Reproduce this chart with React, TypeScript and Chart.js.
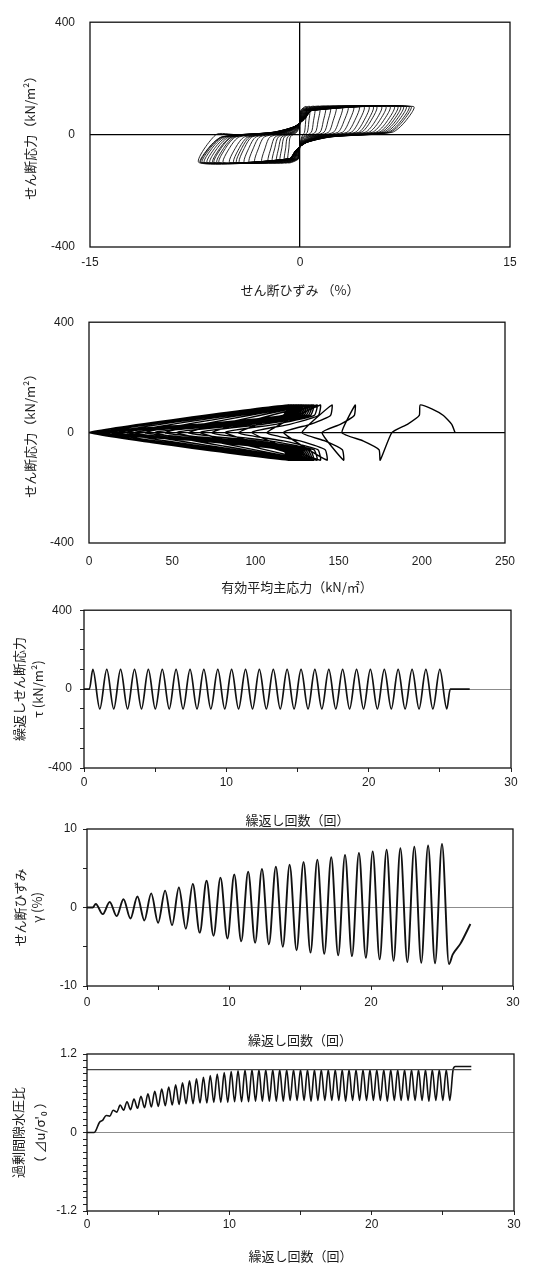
import React, { useEffect, useRef } from 'react';
import { Chart, registerables } from 'chart.js';

Chart.register(...registerables);

const PAGE_W = 542;
const FONT_NUM = '"Liberation Sans", Arial, sans-serif';
const FONT_JP = '"Noto Sans CJK JP", "Noto Sans", sans-serif';
const TEXT_COLOR = '#1c1c1c';

// ====================== DATA ======================
// times (cycles) of the cyclic shear stress peaks (+) and troughs (−), alternating
const tipTimes = [
  0.62, 1.11, 1.60, 2.09, 2.57, 3.06, 3.55, 4.04, 4.52, 5.01,
  5.50, 5.99, 6.47, 6.96, 7.45, 7.94, 8.42, 8.91, 9.40, 9.89,
  10.37, 10.86, 11.35, 11.84, 12.32, 12.81, 13.30, 13.79, 14.27, 14.76,
  15.25, 15.74, 16.22, 16.71, 17.20, 17.69, 18.17, 18.66, 19.15, 19.64,
  20.12, 20.61, 21.10, 21.59, 22.07, 22.56, 23.05, 23.54, 24.02, 24.51,
  25.00, 25.49,
];
// times of the stress zero-crossings following each tip
const crossTimes = [
  0.86, 1.35, 1.84, 2.33, 2.81, 3.30, 3.79, 4.28, 4.76, 5.25,
  5.74, 6.23, 6.71, 7.20, 7.69, 8.18, 8.66, 9.15, 9.64, 10.13,
  10.61, 11.10, 11.59, 12.08, 12.56, 13.05, 13.54, 14.03, 14.51, 15.00,
  15.49, 15.98, 16.46, 16.95, 17.44, 17.93, 18.41, 18.90, 19.39, 19.88,
  20.36, 20.85, 21.34, 21.83, 22.31, 22.80, 23.29, 23.78, 24.26, 24.75,
  25.24, 25.73,
];
const stressAmplitude = 100; // kN/m2
const stressLeadTimes = [0, 0.38];
const stressTailTimes = [25.73, 27.1];

// shear strain (%) at each stress peak / trough
const strainPeaks = [
  0.45, 0.7, 1.05, 1.4, 1.8, 2.15, 2.55, 3.0, 3.4, 3.8,
  4.2, 4.55, 4.9, 5.2, 5.45, 5.8, 6.1, 6.4, 6.7, 6.95,
  7.15, 7.35, 7.55, 7.75, 7.9, 8.1,
];
const strainTroughs = [
  -0.85, -1.1, -1.4, -1.65, -1.95, -2.25, -2.7, -3.2, -3.6, -3.95,
  -4.3, -4.5, -4.7, -5.0, -5.45, -5.75, -5.9, -6.1, -6.2, -6.4,
  -6.6, -6.8, -6.95, -7.05, -7.1, -7.2,
];
const strainLeadTimes = [0, 0.4];
const strainTailTimes = [25.75, 26.3, 27.0];
const strainTailValues = [-6.0, -4.6, -2.1];

// excess pore water pressure ratio at stress tips (local minima) and zero-crossings (local maxima)
const ruAtTips = [
  0.03, 0.19, 0.25, 0.31, 0.34, 0.35, 0.37, 0.38, 0.39, 0.40,
  0.41, 0.42, 0.43, 0.44, 0.44, 0.45, 0.45, 0.46, 0.46, 0.46,
  0.47, 0.47, 0.47, 0.48, 0.48, 0.48, 0.48, 0.48, 0.49, 0.49,
  0.49, 0.48, 0.49, 0.49, 0.49, 0.49, 0.48, 0.49, 0.49, 0.49,
  0.49, 0.49, 0.48, 0.49, 0.49, 0.49, 0.49, 0.49, 0.48, 0.49,
  0.49, 0.49,
];
const ruAtCrossings = [
  0.15, 0.26, 0.34, 0.42, 0.47, 0.51, 0.555, 0.59, 0.63, 0.665,
  0.695, 0.73, 0.76, 0.79, 0.82, 0.845, 0.87, 0.895, 0.915, 0.93,
  0.945, 0.955, 0.96, 0.96, 0.96, 0.96, 0.96, 0.96, 0.96, 0.96,
  0.96, 0.96, 0.96, 0.96, 0.96, 0.96, 0.96, 0.96, 0.96, 0.96,
  0.96, 0.96, 0.96, 0.96, 0.96, 0.96, 0.96, 0.96, 0.96, 0.96,
  0.96, 0.97,
];
const ruLeadTimes = [0, 0.5];
const ruTailTimes = [25.88, 27.0];
const ruTailValues = [1.01, 1.01];
const ruReferenceLevel = 0.96;
const ruReferenceSpan = [0, 27];

// effective stress path: mean effective stress p' (kN/m2)
const pathStartP = [220, 218, 213, 206];
const pathStartTau = [0, 30, 62, 86];
const pathTipP = [
  199, 175, 160, 153, 146, 143, 139, 139, 137, 137,
  135, 135, 134, 134, 133, 133, 132, 132, 131, 131,
  130, 130, 129, 129, 128, 128, 127, 127, 126, 126,
  125, 125, 124, 125, 124, 124, 123, 124, 123, 123,
  122, 123, 122, 122, 121, 122, 121, 121, 120, 121,
  120, 120,
];
const pathCrossP = [
  182, 152, 140, 128, 117, 107, 98, 90, 82, 74,
  67, 60, 53, 46, 40, 34, 28, 23, 18, 14,
  10, 7, 4, 2, 1, 0, 0, 0, 0, 0,
  0, 0, 0, 0, 0, 0, 0, 0, 0, 0,
  0, 0, 0, 0, 0, 0, 0, 0, 0, 0,
  0, 0,
];
const pathUnloadTau = [62, 30];
const pathUnloadFrac = [0.97, 0.55];

// shape of one branch of the stress-strain loop (from one tip to the next)
const loopBranchStress = [45, 8, -8, -28, -55, -86];
const loopWeightFrom = [0.96, 0.9, 0.28, 0.06, 0, 0];
const loopWeightTo = [0.04, 0.1, 0, 0, 0.04, 0.11];

// ====================== SERIES ======================
type P = { x: number; y: number };
const tipSign = (i: number) => (i % 2 === 0 ? 1 : -1);
const strainTips = tipTimes.map((_, i) => (i % 2 === 0 ? strainPeaks[i >> 1] : strainTroughs[i >> 1]));

const stressSeries: P[] = [
  ...stressLeadTimes.map((t) => ({ x: t, y: 0 })),
  ...tipTimes.map((t, i) => ({ x: t, y: tipSign(i) * stressAmplitude })),
  ...stressTailTimes.map((t) => ({ x: t, y: 0 })),
];

const strainSeries: P[] = [
  ...strainLeadTimes.map((t) => ({ x: t, y: 0 })),
  ...tipTimes.map((t, i) => ({ x: t, y: strainTips[i] })),
  ...strainTailTimes.map((t, i) => ({ x: t, y: strainTailValues[i] })),
];

const ruSeries: P[] = [
  ...ruLeadTimes.map((t) => ({ x: t, y: 0 })),
  ...tipTimes.flatMap((t, i) => [
    { x: t, y: ruAtTips[i] },
    { x: crossTimes[i], y: ruAtCrossings[i] },
  ]),
  ...ruTailTimes.map((t, i) => ({ x: t, y: ruTailValues[i] })),
];
const ruRefSeries: P[] = ruReferenceSpan.map((t) => ({ x: t, y: ruReferenceLevel }));

const pathSeries: P[] = pathStartP.map((p, i) => ({ x: p, y: pathStartTau[i] }));
tipTimes.forEach((_, i) => {
  const s = tipSign(i);
  const tip = pathTipP[i];
  const cross = pathCrossP[i];
  pathSeries.push({ x: tip, y: s * stressAmplitude });
  pathUnloadTau.forEach((tau, j) => {
    pathSeries.push({ x: cross + pathUnloadFrac[j] * (tip - cross), y: s * tau });
  });
  pathSeries.push({ x: cross, y: 0 });
});

const loopSeries: P[] = [{ x: 0, y: 0 }];
let prevStrain = 0;
strainTips.forEach((b, i) => {
  const s = tipSign(i);
  loopBranchStress.forEach((st, j) => {
    const y = -s * st;
    if (i === 0 && y <= 0) return;
    loopSeries.push({ x: loopWeightFrom[j] * prevStrain + loopWeightTo[j] * b, y });
  });
  loopSeries.push({ x: b, y: s * stressAmplitude });
  prevStrain = b;
});
strainTailValues.forEach((v) => loopSeries.push({ x: v, y: 0 }));

// ====================== CHART CONFIG ======================
const TICK_SIZE = 12;
const TICK_LH = TICK_SIZE * 1.2;
const TITLE_SIZE = 13;
const TITLE_LH = TITLE_SIZE * 1.2;

const framePlugin = {
  id: 'frame',
  afterDatasetsDraw(chart: any, _a: any, opts: any) {
    const { ctx, chartArea } = chart;
    ctx.save();
    ctx.strokeStyle = opts.color || '#111';
    ctx.lineWidth = opts.width || 1.3;
    ctx.strokeRect(chartArea.left, chartArea.top, chartArea.right - chartArea.left, chartArea.bottom - chartArea.top);
    ctx.restore();
  },
};

const near = (v: number, t: number) => Math.abs(v - t) < 1e-6;

interface AxisSpec {
  min: number;
  max: number;
  step: number;
  label: (v: number) => string;
  zero?: string;
  zeroWidth?: number;
}
interface Spec {
  top: number;
  height: number;
  left: number;
  right: number;
  plotTop: number;
  plotBottom: number;
  tickLen: number;
  x: AxisSpec;
  y: AxisSpec;
  xLabelCenter: number;
  yLabelRight: number;
  xTitle: string;
  xTitleCenter: number;
  yTitle: string | string[];
  yTitleX: number;
  yTitleLH: number;
  datasets: any[];
}

function axis(a: AxisSpec, tickLen: number, pad: number, title: any, fit: (s: any) => void) {
  return {
    type: 'linear',
    min: a.min,
    max: a.max,
    afterFit: fit,
    border: { display: false },
    grid: {
      drawOnChartArea: !!a.zero,
      drawTicks: tickLen > 0,
      tickLength: tickLen,
      tickColor: '#222',
      tickWidth: 1,
      color: (c: any) => (a.zero && c.tick && near(c.tick.value, 0) ? a.zero : 'rgba(0,0,0,0)'),
      lineWidth: a.zeroWidth ?? 1,
    },
    ticks: {
      stepSize: a.step,
      autoSkip: false,
      maxRotation: 0,
      minRotation: 0,
      padding: pad,
      color: TEXT_COLOR,
      font: { family: FONT_NUM, size: TICK_SIZE },
      callback: (v: any) => a.label(Number(v)),
    },
    title,
  };
}

function buildConfig(s: Spec): any {
  const xH = s.xTitleCenter - s.plotBottom + TITLE_LH / 2;
  const padBottom = s.height - (s.plotBottom - s.top) - xH;
  const xPad = s.xLabelCenter - s.plotBottom - s.tickLen - TICK_LH / 2;
  const yPad = s.left - s.tickLen - s.yLabelRight;
  return {
    type: 'scatter',
    data: { datasets: s.datasets },
    options: {
      responsive: false,
      maintainAspectRatio: false,
      animation: false,
      events: [],
      layout: { padding: { left: 0, right: PAGE_W - s.right, top: s.plotTop - s.top, bottom: padBottom } },
      plugins: {
        legend: { display: false },
        tooltip: { enabled: false },
        frame: { color: '#111', width: 1.3 },
      },
      scales: {
        x: {
          position: 'bottom',
          ...axis(
            s.x,
            s.tickLen,
            xPad,
            { display: true, text: s.xTitle, color: TEXT_COLOR, font: { family: FONT_JP, size: TITLE_SIZE }, padding: 0 },
            (sc: any) => {
              sc.height = xH;
            }
          ),
        },
        y: {
          position: 'left',
          ...axis(
            s.y,
            s.tickLen,
            yPad,
            {
              display: true,
              text: s.yTitle,
              color: TEXT_COLOR,
              font: { family: FONT_JP, size: TITLE_SIZE, lineHeight: s.yTitleLH + 'px' },
              padding: { top: s.yTitleX - s.yTitleLH / 2, bottom: 0 },
            },
            (sc: any) => {
              sc.width = s.left;
            }
          ),
        },
      },
    },
    plugins: [framePlugin],
  };
}

const line = (data: P[], extra: any = {}) => ({
  data,
  showLine: true,
  pointRadius: 0,
  borderColor: '#111',
  borderWidth: 1.4,
  fill: false,
  ...extra,
});

const plain = (v: number) => String(v);
const every10 = (v: number) => (near(v % 10, 0) ? String(v) : '');
const every400 = (v: number) => (near(v % 400, 0) ? String(v) : '');
const ruLabel = (v: number) => (near(v, 0) ? '0' : near(v, 1.2) ? '1.2' : near(v, -1.2) ? '-1.2' : '');
const GRAY_ZERO = '#8c8c8c';

const specs: Spec[] = [
  {
    top: 0, height: 300, left: 90, right: 510, plotTop: 17, plotBottom: 247, tickLen: 0,
    x: { min: -15, max: 15, step: 15, label: plain, zero: '#000', zeroWidth: 1.3 },
    y: { min: -400, max: 400, step: 400, label: plain, zero: '#000', zeroWidth: 1.3 },
    xLabelCenter: 263, yLabelRight: 75,
    xTitle: 'せん断ひずみ （%）', xTitleCenter: 290,
    yTitle: 'せん断応力（kN/m²）', yTitleX: 30, yTitleLH: TITLE_LH,
    datasets: [line(loopSeries, { borderColor: '#000', borderWidth: 0.85, tension: 0.25 })],
  },
  {
    top: 300, height: 300, left: 89, right: 505, plotTop: 315, plotBottom: 543, tickLen: 0,
    x: { min: 0, max: 250, step: 50, label: plain },
    y: { min: -400, max: 400, step: 400, label: plain, zero: '#000', zeroWidth: 1.3 },
    xLabelCenter: 561.5, yLabelRight: 74,
    xTitle: '有効平均主応力（kN/㎡）', xTitleCenter: 587,
    yTitle: 'せん断応力（kN/m²）', yTitleX: 30, yTitleLH: TITLE_LH,
    datasets: [line(pathSeries, { borderColor: '#000', borderWidth: 1.4, tension: 0.15 })],
  },
  {
    top: 595, height: 235, left: 84, right: 511, plotTop: 609, plotBottom: 768, tickLen: 4,
    x: { min: 0, max: 30, step: 5, label: every10 },
    y: { min: -400, max: 400, step: 100, label: every400, zero: GRAY_ZERO, zeroWidth: 1 },
    xLabelCenter: 783, yLabelRight: 72,
    xTitle: '繰返し回数（回）', xTitleCenter: 820,
    yTitle: ['繰返しせん断応力', 'τ (kN/m²)'], yTitleX: 19, yTitleLH: 19,
    datasets: [line(stressSeries, { borderWidth: 1.7, cubicInterpolationMode: 'monotone' })],
  },
  {
    top: 815, height: 245, left: 87, right: 513, plotTop: 829, plotBottom: 986, tickLen: 4,
    x: { min: 0, max: 30, step: 5, label: every10 },
    y: { min: -10, max: 10, step: 5, label: every10, zero: GRAY_ZERO, zeroWidth: 1 },
    xLabelCenter: 1003, yLabelRight: 77,
    xTitle: '繰返し回数（回）', xTitleCenter: 1040,
    yTitle: ['せん断ひずみ', 'γ (%)'], yTitleX: 20, yTitleLH: 17,
    datasets: [line(strainSeries, { borderWidth: 1.9, cubicInterpolationMode: 'monotone' })],
  },
  {
    top: 1035, height: 236, left: 87, right: 514, plotTop: 1054, plotBottom: 1211, tickLen: 4,
    x: { min: 0, max: 30, step: 5, label: every10 },
    y: { min: -1.2, max: 1.2, step: 0.1, label: ruLabel, zero: GRAY_ZERO, zeroWidth: 1 },
    xLabelCenter: 1225, yLabelRight: 77,
    xTitle: '繰返し回数（回）', xTitleCenter: 1256,
    yTitle: ['過剰間隙水圧比', "（ ⊿u/σ'₀ ）"], yTitleX: 18, yTitleLH: 22,
    datasets: [
      line(ruRefSeries, { borderColor: '#444', borderWidth: 1.3 }),
      line(ruSeries, { borderWidth: 1.6, cubicInterpolationMode: 'monotone' }),
    ],
  },
];

function ChartCanvas({ spec }: { spec: Spec }) {
  const ref = useRef<HTMLCanvasElement | null>(null);
  useEffect(() => {
    if (!ref.current) return;
    const chart = new Chart(ref.current, buildConfig(spec));
    return () => chart.destroy();
  }, [spec]);
  return (
    <canvas
      ref={ref}
      width={PAGE_W}
      height={spec.height}
      style={{ position: 'absolute', left: 0, top: spec.top, width: PAGE_W, height: spec.height }}
    />
  );
}

export default function App() {
  return (
    <div
      style={{
        position: 'absolute',
        left: 0,
        top: 0,
        width: PAGE_W,
        height: 1271,
        background: '#fff',
        overflow: 'hidden',
      }}
    >
      {specs.map((s, i) => (
        <ChartCanvas key={i} spec={s} />
      ))}
    </div>
  );
}
